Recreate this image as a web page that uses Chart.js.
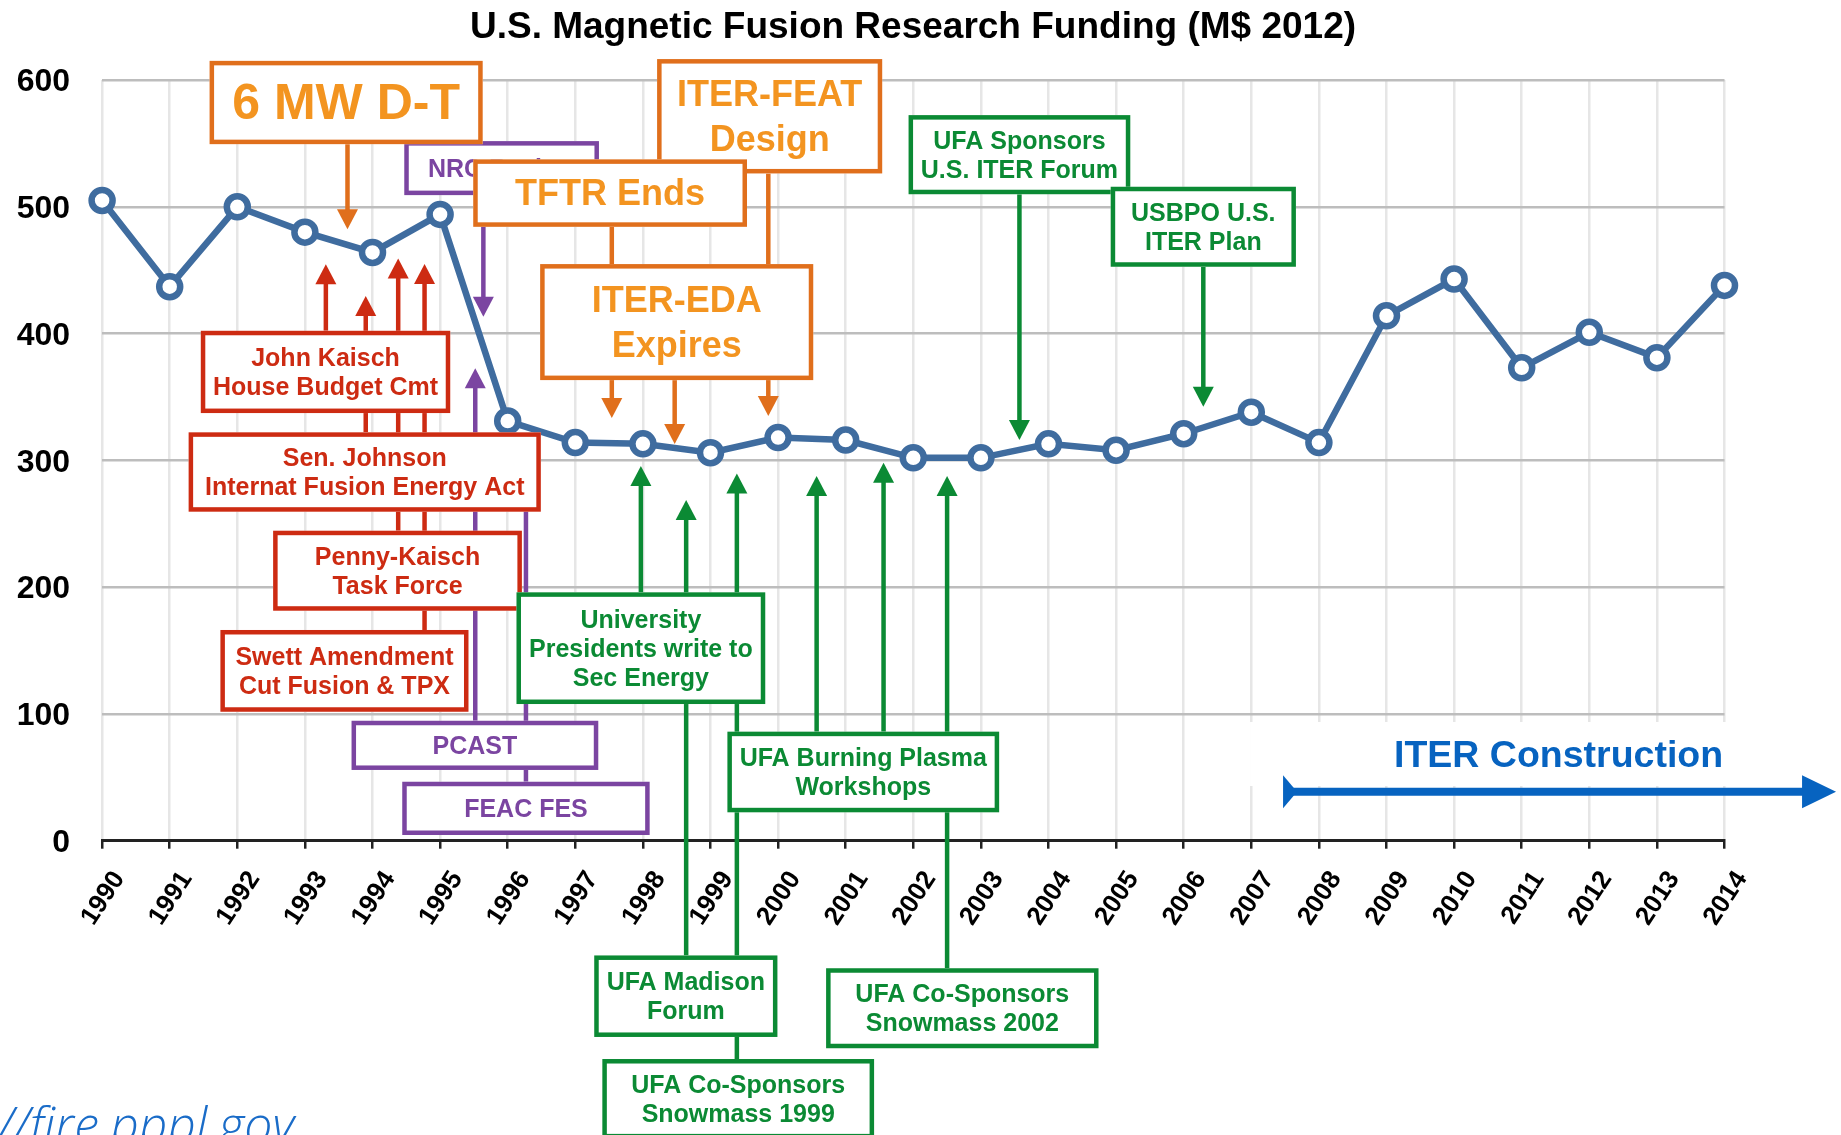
<!DOCTYPE html>
<html lang="en">
  <head>
    <meta charset="utf-8" />
    <title>U.S. Magnetic Fusion Research Funding</title>
    <style>
      html, body { margin: 0; padding: 0; background: #fff; }
      #wrap { width: 1841px; height: 1135px; }
    </style>
  </head>
  <body>
    <div id="wrap">
      <canvas id="fusion-chart" width="1841" height="1135"></canvas>
    </div>

    <script src="https://cdn.jsdelivr.net/npm/chart.js@4.4.1/dist/chart.umd.min.js"></script>
    <script>
      const YEARS = [
        "1990", "1991", "1992", "1993", "1994", "1995", "1996", "1997", "1998",
        "1999", "2000", "2001", "2002", "2003", "2004", "2005", "2006", "2007",
        "2008", "2009", "2010", "2011", "2012", "2013", "2014",
      ];

      // M$ 2012
      const FUNDING = [
        505, 437, 500, 480, 464, 494, 331, 314, 313, 306, 318, 316, 302,
        302, 313, 308, 321, 338, 314, 414, 443, 373, 401, 381, 438,
      ];

      const CHART_TITLE = "U.S. Magnetic Fusion Research Funding (M$ 2012)";
      const FIRST_YEAR = 1990;

      const FONT = '"Liberation Sans", Arial, Helvetica, sans-serif';

      const PALETTE = {
        orange: { stroke: "#e06f1c", text: "#f39420" },
        red: { stroke: "#cd2b12", text: "#cd2b12" },
        purple: { stroke: "#7b45a1", text: "#7b45a1" },
        green: { stroke: "#0b8a34", text: "#0b8a34" },
      };

      // annotation boxes, in axis units: x = [from year, to year], y = [top value, bottom value]
      // listed in drawing order (later ones sit on top)
      const NOTES = [
        { lines: ["NRC Review"], c: "purple", size: 25, x: [1994.47, 1997.35], y: [551.8, 509.2] },
        { lines: ["6 MW D-T"], c: "orange", size: 50, x: [1991.59, 1995.63], y: [615.1, 549.4] },
        { lines: ["ITER-FEAT", "Design"], c: "orange", size: 36, x: [1998.21, 2001.54], y: [616.5, 526.3] },
        { lines: ["TFTR Ends"], c: "orange", size: 36, x: [1995.49, 1999.54], y: [537.4, 484.2] },
        { lines: ["ITER-EDA", "Expires"], c: "orange", size: 36, x: [1996.48, 2000.52], y: [454.8, 363.3] },
        { lines: ["UFA Sponsors", "U.S. ITER Forum"], c: "green", size: 25, x: [2001.93, 2005.21], y: [572.3, 509.9] },
        { lines: ["USBPO U.S.", "ITER Plan"], c: "green", size: 25, x: [2004.92, 2007.66], y: [515.8, 452.7] },
        { lines: ["John Kaisch", "House Budget Cmt"], c: "red", size: 25, x: [1991.46, 1995.15], y: [402.2, 337.3] },
        { lines: ["Sen. Johnson", "Internat Fusion Energy Act"], c: "red", size: 25, x: [1991.28, 1996.49], y: [322.1, 259.5] },
        { lines: ["Penny-Kaisch", "Task Force"], c: "red", size: 25, x: [1992.53, 1996.21], y: [244.5, 181.4] },
        { lines: ["Swett Amendment", "Cut Fusion & TPX"], c: "red", size: 25, x: [1991.75, 1995.42], y: [166.2, 101.7] },
        { lines: ["PCAST"], c: "purple", size: 25, x: [1993.69, 1997.34], y: [94.6, 55.8] },
        { lines: ["FEAC FES"], c: "purple", size: 25, x: [1994.44, 1998.1], y: [46.5, 4.5] },
        { lines: ["University", "Presidents write to", "Sec Energy"], c: "green", size: 25, x: [1996.13, 1999.81], y: [195.9, 107.8] },
        { lines: ["UFA Burning Plasma", "Workshops"], c: "green", size: 25, x: [1999.25, 2003.27], y: [86.0, 22.4] },
        { lines: ["UFA Madison", "Forum"], c: "green", size: 25, x: [1997.28, 1999.99], y: [-90.5, -154.8] },
        { lines: ["UFA Co-Sponsors", "Snowmass 1999"], c: "green", size: 25, x: [1997.4, 2001.42], y: [-172.2, -234.8] },
        { lines: ["UFA Co-Sponsors", "Snowmass 2002"], c: "green", size: 25, x: [2000.71, 2004.74], y: [-100.6, -163.7] },
      ];

      // pointer lines: [year, from value, to value, arrow head?]
      const POINTERS = [
        { c: "orange", at: [1993.63, 549.4, 482.2, true] },
        { c: "orange", at: [1997.54, 484.2, 333.4, true] },
        { c: "orange", at: [1999.855, 526.3, 334.9, true] },
        { c: "orange", at: [1998.47, 363.3, 312.9, true] },
        { c: "purple", at: [1995.64, 509.2, 413.2, true] },
        { c: "purple", at: [1995.52, 94.6, 372.6, true] },
        { c: "purple", at: [1996.27, 46.5, 284.5, false] },
        { c: "red", at: [1993.31, 402.2, 454.6, true] },
        { c: "red", at: [1993.9, 322.1, 429.6, true] },
        { c: "red", at: [1994.38, 244.5, 459.3, true] },
        { c: "red", at: [1994.77, 166.2, 454.8, true] },
        { c: "green", at: [2003.57, 509.9, 316.0, true] },
        { c: "green", at: [2006.29, 452.7, 342.3, true] },
        { c: "green", at: [1997.97, 195.9, 295.5, true] },
        { c: "green", at: [1998.64, -90.5, 268.7, true] },
        { c: "green", at: [1999.39, -172.2, 289.7, true] },
        { c: "green", at: [2000.57, 86.0, 287.6, true] },
        { c: "green", at: [2001.56, 86.0, 298.1, true] },
        { c: "green", at: [2002.5, -100.6, 287.6, true] },
      ];

      // ITER construction span
      const ITER_SPAN = { from: 2007.47, to: 2015.65, value: 38.6, label: "ITER Construction", labelRight: 2013.98, labelValue: 67.6 };

      const drawPointer = (ctx, x, y0, y1, color, head) => {
        const dir = y1 > y0 ? 1 : -1;
        const hl = head ? 19 : 0;
        ctx.strokeStyle = color;
        ctx.lineWidth = 4.5;
        ctx.beginPath();
        ctx.moveTo(x, y0);
        ctx.lineTo(x, y1 - dir * hl);
        ctx.stroke();
        if (head) {
          ctx.fillStyle = color;
          ctx.beginPath();
          ctx.moveTo(x - 10.5, y1 - dir * (hl + 1));
          ctx.lineTo(x + 10.5, y1 - dir * (hl + 1));
          ctx.lineTo(x, y1);
          ctx.closePath();
          ctx.fill();
        }
      };

      const notesPlugin = {
        id: "notes",
        afterDatasetsDraw(chart) {
          const { ctx } = chart;
          const xs = chart.scales.x;
          const ys = chart.scales.y;
          const X = (yr) => xs.getPixelForValue(yr - FIRST_YEAR);
          const Y = (v) => ys.getPixelForValue(v);

          ctx.save();

          // ITER construction label + arrow
          const ax0 = X(ITER_SPAN.from);
          const ax1 = X(ITER_SPAN.to);
          const ay = Y(ITER_SPAN.value);
          const ly = Y(ITER_SPAN.labelValue);
          ctx.fillStyle = "#fff";
          ctx.fillRect(ax0 - 33, ly - 33, X(ITER_SPAN.labelRight) - ax0 + 43, 64);
          ctx.fillStyle = "#0763c0";
          ctx.strokeStyle = "#0763c0";
          ctx.lineWidth = 8;
          ctx.beginPath();
          ctx.moveTo(ax0 + 10, ay);
          ctx.lineTo(ax1 - 32, ay);
          ctx.stroke();
          ctx.beginPath();
          ctx.moveTo(ax1 - 34, ay - 16.5);
          ctx.lineTo(ax1, ay);
          ctx.lineTo(ax1 - 34, ay + 16.5);
          ctx.closePath();
          ctx.fill();
          ctx.beginPath();
          ctx.moveTo(ax0, ay - 16.5);
          ctx.lineTo(ax0 + 14, ay);
          ctx.lineTo(ax0, ay + 16.5);
          ctx.closePath();
          ctx.fill();
          ctx.font = "bold 37.5px " + FONT;
          ctx.textAlign = "right";
          ctx.textBaseline = "middle";
          ctx.fillText(ITER_SPAN.label, X(ITER_SPAN.labelRight), ly + 2);

          // lines behind the boxes
          POINTERS.forEach((p) => {
            const [yr, v0, v1, head] = p.at;
            drawPointer(ctx, X(yr), Y(v0), Y(v1), PALETTE[p.c].stroke, head);
          });

          // boxes
          NOTES.forEach((n) => {
            const x0 = X(n.x[0]);
            const x1 = X(n.x[1]);
            const y0 = Y(n.y[0]);
            const y1 = Y(n.y[1]);
            const bw = 4.5;
            ctx.fillStyle = "#fff";
            ctx.fillRect(x0, y0, x1 - x0, y1 - y0);
            ctx.strokeStyle = PALETTE[n.c].stroke;
            ctx.lineWidth = bw;
            ctx.strokeRect(x0 + bw / 2, y0 + bw / 2, x1 - x0 - bw, y1 - y0 - bw);

            const lh = n.size >= 36 ? n.size * 1.25 : 29;
            const cx = (x0 + x1) / 2;
            const cy = (y0 + y1) / 2;
            ctx.fillStyle = PALETTE[n.c].text;
            ctx.font = "bold " + n.size + "px " + FONT;
            ctx.textAlign = "center";
            ctx.textBaseline = "middle";
            n.lines.forEach((line, i) => {
              const off = (i - (n.lines.length - 1) / 2) * lh;
              ctx.fillText(line, cx, cy + off + n.size * 0.06);
            });
          });

          ctx.restore();
        },
        afterDraw(chart) {
          const { ctx } = chart;
          ctx.save();
          ctx.fillStyle = "#000";
          ctx.font = "bold 37px " + FONT;
          ctx.textAlign = "center";
          ctx.textBaseline = "middle";
          ctx.fillText(CHART_TITLE, 913, 28);

          // source link, cut by the bottom edge
          ctx.fillStyle = "#1a6cc8";
          ctx.font = 'italic 300 50px "Open Sans", "Liberation Sans", sans-serif';
          ctx.textAlign = "right";
          ctx.textBaseline = "alphabetic";
          ctx.fillText("http://fire.pppl.gov", 294, 1143);
          ctx.restore();
        },
      };

      new Chart(document.getElementById("fusion-chart"), {
        type: "line",
        data: {
          labels: YEARS,
          datasets: [
            {
              label: "Funding",
              data: FUNDING,
              borderColor: "#3f6c9f",
              borderWidth: 6.5,
              pointRadius: 10.5,
              pointBorderWidth: 6.5,
              pointBackgroundColor: "#fff",
              pointBorderColor: "#3f6c9f",
              tension: 0,
              clip: false,
            },
          ],
        },
        options: {
          responsive: false,
          devicePixelRatio: 1,
          animation: false,
          layout: { padding: { top: 80, right: 116.5, left: 0, bottom: 0 } },
          plugins: {
            legend: { display: false },
            title: { display: false },
            tooltip: { enabled: false },
          },
          scales: {
            x: {
              offset: false,
              grid: {
                color: "#e6e6e6",
                lineWidth: 2.5,
                drawTicks: true,
                tickLength: 8,
                tickColor: "#222",
                tickWidth: 2.5,
              },
              border: { display: true, color: "#222", width: 3 },
              ticks: {
                autoSkip: false,
                minRotation: 57,
                maxRotation: 57,
                padding: 17,
                labelOffset: 17,
                color: "#000",
                font: { family: FONT, size: 26, weight: "bold" },
              },
              afterFit(scale) {
                scale.height = 294.3;
                scale.paddingLeft = 0;
                scale.paddingRight = 0;
              },
            },
            y: {
              min: 0,
              max: 600,
              ticks: {
                stepSize: 100,
                padding: 32,
                labelOffset: 2.5,
                color: "#000",
                font: { family: FONT, size: 32, weight: "bold" },
              },
              grid: {
                drawTicks: false,
                lineWidth: 2.5,
                color: (c) => (c.tick && c.tick.value === 0 ? "#222" : "#bdbdbd"),
              },
              border: { display: false },
              afterFit(scale) {
                scale.width = 102.1;
                scale.paddingTop = 0;
                scale.paddingBottom = 0;
              },
            },
          },
        },
        plugins: [notesPlugin],
      });
    </script>
  </body>
</html>
